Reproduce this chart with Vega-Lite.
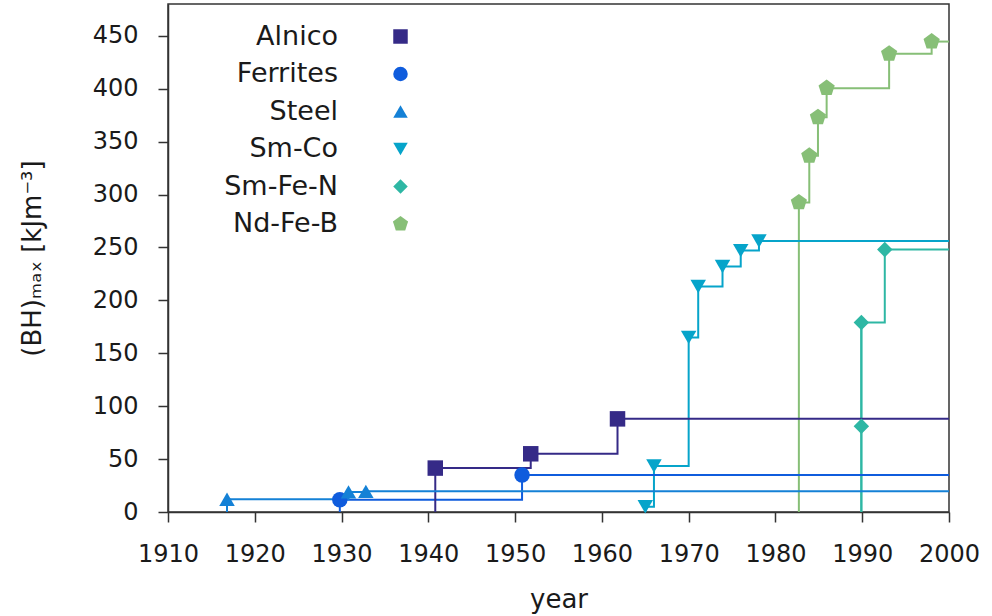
{
  "$schema": "https://vega.github.io/schema/vega-lite/v6.json",
  "width": 781,
  "height": 508,
  "autosize": {"type": "none"},
  "padding": {"left": 168, "top": 4, "right": 43, "bottom": 104},
  "config": {
    "font": "DejaVu Sans",
    "view": {"stroke": "#333", "strokeWidth": 1.5},
    "legend": {
      "orient": "none",
      "legendX": 219,
      "legendY": 19,
      "labelAlign": "right",
      "labelOffset": -76,
      "labelFontSize": 27,
      "labelColor": "#1a1a1a",
      "labelLimit": 300,
      "symbolSize": 210,
      "symbolStrokeWidth": 0,
      "symbolType": "circle",
      "rowPadding": 9.5,
      "padding": 0
    }
  },
  "data": {
    "values": [
      {"i": 1, "material": "Alnico", "year": 1940.8, "bh": 41.5},
      {"i": 2, "material": "Alnico", "year": 1951.8, "bh": 55},
      {"i": 3, "material": "Alnico", "year": 1961.8, "bh": 88},
      {"i": 4, "material": "Ferrites", "year": 1929.8, "bh": 11.5},
      {"i": 5, "material": "Ferrites", "year": 1950.8, "bh": 35},
      {"i": 6, "material": "Steel", "year": 1916.8, "bh": 12},
      {"i": 7, "material": "Steel", "year": 1930.8, "bh": 19},
      {"i": 8, "material": "Steel", "year": 1932.8, "bh": 19.5},
      {"i": 9, "material": "Sm-Co", "year": 1965.0, "bh": 5},
      {"i": 10, "material": "Sm-Co", "year": 1966.0, "bh": 43.5},
      {"i": 11, "material": "Sm-Co", "year": 1970.0, "bh": 165},
      {"i": 12, "material": "Sm-Co", "year": 1971.1, "bh": 213},
      {"i": 13, "material": "Sm-Co", "year": 1973.9, "bh": 232},
      {"i": 14, "material": "Sm-Co", "year": 1976.0, "bh": 247},
      {"i": 15, "material": "Sm-Co", "year": 1978.1, "bh": 256},
      {"i": 16, "material": "Sm-Fe-N", "year": 1989.9, "bh": 81},
      {"i": 17, "material": "Sm-Fe-N", "year": 1989.9, "bh": 179},
      {"i": 18, "material": "Sm-Fe-N", "year": 1992.6, "bh": 248},
      {"i": 19, "material": "Nd-Fe-B", "year": 1982.7, "bh": 292.5},
      {"i": 20, "material": "Nd-Fe-B", "year": 1983.9, "bh": 336.5},
      {"i": 21, "material": "Nd-Fe-B", "year": 1984.9, "bh": 373},
      {"i": 22, "material": "Nd-Fe-B", "year": 1985.9, "bh": 400.5},
      {"i": 23, "material": "Nd-Fe-B", "year": 1993.1, "bh": 433},
      {"i": 24, "material": "Nd-Fe-B", "year": 1998.0, "bh": 444.5}
    ]
  },
  "transform": [
    {"joinaggregate": [{"op": "min", "field": "year", "as": "y0"}, {"op": "max", "field": "year", "as": "y1"}], "groupby": ["material"]}
  ],
  "encoding": {
    "x": {
      "field": "year", "type": "quantitative",
      "scale": {"domain": [1910, 2000], "nice": false, "zero": false},
      "axis": {
        "values": [1910, 1920, 1930, 1940, 1950, 1960, 1970, 1980, 1990, 2000],
        "format": "d",
        "grid": false,
        "tickSize": 10, "tickColor": "#333", "tickWidth": 1.5,
        "domainColor": "#333", "domainWidth": 1.5,
        "labelFontSize": 24, "labelColor": "#1a1a1a", "labelPadding": 20,
        "labelFlush": false, "labelOverlap": false,
        "title": "year", "titleFontSize": 26, "titleFontWeight": "normal", "titleColor": "#1a1a1a", "titlePadding": 20
      }
    },
    "y": {
      "field": "bh", "type": "quantitative",
      "scale": {"domain": [0, 480], "nice": false},
      "axis": {
        "values": [0, 50, 100, 150, 200, 250, 300, 350, 400, 450],
        "grid": false,
        "tickSize": 10, "tickColor": "#333", "tickWidth": 1.5,
        "domainColor": "#333", "domainWidth": 1.5,
        "labelFontSize": 24, "labelColor": "#1a1a1a", "labelPadding": 20,
        "labelFlush": false, "labelOverlap": false,
        "title": "(BH)ₘₐₓ [kJm⁻³]", "titleFontSize": 26, "titleFontWeight": "normal", "titleColor": "#1a1a1a", "titlePadding": 47
      }
    },
    "color": {"field": "material", "type": "nominal", "title": null,
      "scale": {"domain": ["Alnico", "Ferrites", "Steel", "Sm-Co", "Sm-Fe-N", "Nd-Fe-B"], "range": ["#352a87", "#0f5cdd", "#1481d6", "#06a4ca", "#2eb7a4", "#87bf77"]}}
  },
  "layer": [
    {
      "mark": {"type": "line", "interpolate": "step-after", "strokeWidth": 2},
      "encoding": {
        "order": {"field": "i", "type": "quantitative"}
      }
    },
    {
      "transform": [{"filter": "datum.year == datum.y0"}],
      "mark": {"type": "rule", "strokeWidth": 2},
      "encoding": {
        "y2": {"datum": 0}
      }
    },
    {
      "transform": [{"filter": "datum.year == datum.y1"}],
      "mark": {"type": "rule", "strokeWidth": 2},
      "encoding": {
        "x2": {"datum": 2000}
      }
    },
    {
      "mark": {"type": "point", "filled": true, "opacity": 1, "size": 240},
      "encoding": {
        "shape": {"field": "material", "type": "nominal", "title": null,
          "scale": {"domain": ["Alnico", "Ferrites", "Steel", "Sm-Co", "Sm-Fe-N", "Nd-Fe-B"], "range": ["square", "circle", "triangle-up", "triangle-down", "diamond", "M0,-1.1L1.046,-0.34L0.647,0.89L-0.647,0.89L-1.046,-0.34Z"]}}
      }
    }
  ]
}
